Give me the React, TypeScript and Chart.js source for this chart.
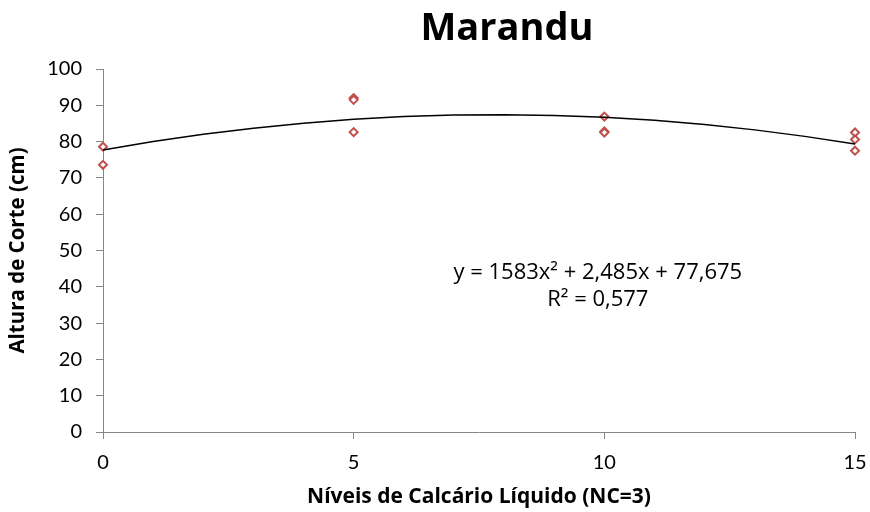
import React, { useEffect, useRef } from "react";
import { Chart, registerables } from "chart.js";

Chart.register(...registerables);

const chartTitle = "Marandu";
const xAxisTitle = "Níveis de Calcário Líquido (NC=3)";
const yAxisTitle = "Altura de Corte (cm)";
const equationLines = ["y = 1583x² + 2,485x + 77,675", "R² = 0,577"];

const xTicks = [0, 5, 10, 15];
const yTicks = [0, 10, 20, 30, 40, 50, 60, 70, 80, 90, 100];

// observed points
const obsX = [0, 0, 5, 5, 5, 10, 10, 10, 15, 15, 15];
const obsY = [78.6, 73.6, 92.0, 91.5, 82.6, 86.9, 82.8, 82.5, 82.5, 80.6, 77.5];

// trend line values
const trendX = [0, 1, 2, 3, 4, 5, 6, 7, 8, 9, 10, 11, 12, 13, 14, 15];
const trendY = [77.68, 80.0, 82.01, 83.71, 85.08, 86.14, 86.89, 87.31, 87.42, 87.22, 86.7, 85.86, 84.7, 83.23, 81.44, 79.33];

const FONT = "Lato, 'Open Sans', sans-serif";
const TFONT = "'Open Sans', Lato, sans-serif";

export default function App() {
  const ref = useRef<HTMLCanvasElement | null>(null);

  useEffect(() => {
    if (!ref.current) return;
    const textPlugin = {
      id: "extraText",
      afterDraw(chart: any) {
        const { ctx, chartArea } = chart;
        ctx.save();
        ctx.fillStyle = "#000";
        ctx.textAlign = "center";
        ctx.textBaseline = "middle";
        ctx.font = `bold 38px ${TFONT}`;
        ctx.fillText(chartTitle, 507, 29);
        ctx.font = `22px ${TFONT}`;
        const cx = chartArea.left + (chartArea.right - chartArea.left) * 0.658;
        ctx.fillText(equationLines[0], cx, 273);
        ctx.fillText(equationLines[1], cx, 300);
        ctx.restore();
      },
    };

    const chart = new Chart(ref.current, {
      type: "scatter",
      data: {
        datasets: [
          {
            type: "line",
            data: trendX.map((x, i) => ({ x, y: trendY[i] })),
            borderColor: "#000",
            borderWidth: 1.5,
            pointRadius: 0,
            fill: false,
            tension: 0,
            clip: false,
          } as any,
          {
            type: "scatter",
            data: obsX.map((x, i) => ({ x, y: obsY[i] })),
            pointStyle: "rectRot",
            pointRadius: 4,
            borderColor: "#C0504D",
            borderWidth: 2,
            backgroundColor: "#fff",
            clip: false,
          } as any,
        ],
      },
      options: {
        animation: false,
        responsive: false,
        layout: { padding: { top: 69, right: 15, left: 0, bottom: 0 } },
        plugins: { legend: { display: false }, tooltip: { enabled: false }, title: { display: false } },
        scales: {
          x: {
            type: "linear",
            min: 0,
            max: 15,
            afterBuildTicks: (s: any) => {
              s.ticks = xTicks.map((v) => ({ value: v }));
            },
            afterFit: (s: any) => {
              s.height = 80;
              s.paddingRight = 0;
              s.paddingLeft = 0;
            },
            ticks: { color: "#000", font: { family: FONT, size: 20 }, padding: 12, maxRotation: 0 },
            grid: { display: true, drawOnChartArea: false, drawTicks: true, tickLength: 7, color: "#868686" },
            border: { color: "#868686", width: 1 },
            title: {
              display: true,
              text: xAxisTitle,
              color: "#000",
              font: { family: TFONT, size: 21, weight: "bold" },
              padding: { top: 0, bottom: 2 },
            },
          },
          y: {
            type: "linear",
            min: 0,
            max: 100,
            afterBuildTicks: (s: any) => {
              s.ticks = yTicks.map((v) => ({ value: v }));
            },
            afterFit: (s: any) => {
              s.width = 103;
              s.paddingTop = 0;
              s.paddingBottom = 0;
            },
            ticks: { color: "#000", font: { family: FONT, size: 20 }, padding: 14 },
            grid: { display: true, drawOnChartArea: false, drawTicks: true, tickLength: 7, color: "#868686" },
            border: { color: "#868686", width: 1 },
            title: {
              display: true,
              text: yAxisTitle,
              color: "#000",
              font: { family: TFONT, size: 20.5, weight: "bold" },
              padding: { top: 6, bottom: 0 },
            },
          },
        },
      },
      plugins: [textPlugin],
    });
    return () => chart.destroy();
  }, []);

  return (
    <div style={{ position: "fixed", left: 0, top: 0, width: 870, height: 512, background: "#fff" }}>
      <canvas ref={ref} width={870} height={512} style={{ width: 870, height: 512 }} />
    </div>
  );
}
